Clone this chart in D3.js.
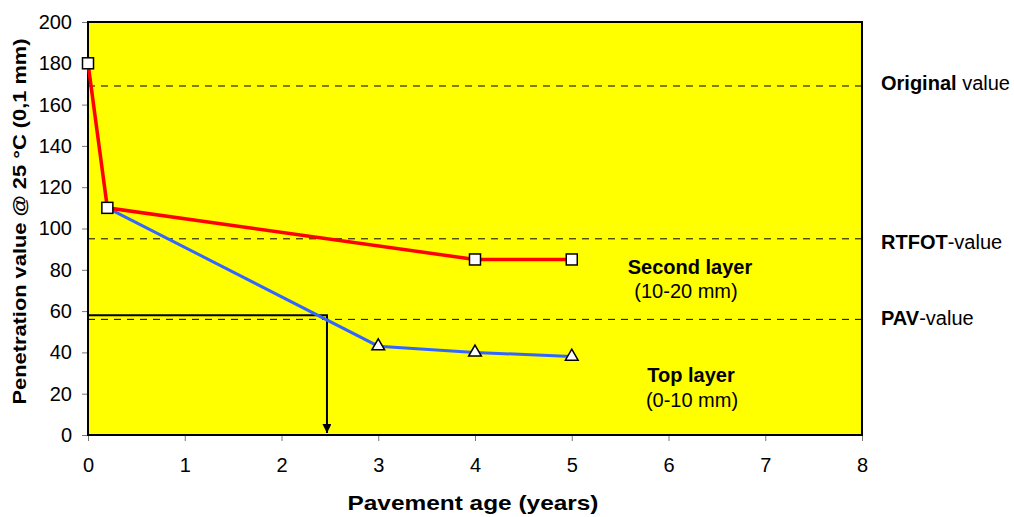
<!DOCTYPE html>
<html>
<head>
<meta charset="utf-8">
<script src="https://cdn.jsdelivr.net/npm/d3@7"></script>
<style>
  body { margin: 0; background: #fff; }
  svg { font-family: Arial, "Liberation Sans", sans-serif; }
</style>
</head>
<body>
<div id="chart"></div>
<script>
// second layer (10-20 mm)
const secondYears = [0, 0.2, 4, 5];
const secondValues = [180, 110, 85, 85];
// top layer (0-10 mm)
const topYears = [0.2, 3, 4, 5];
const topValues = [110, 43, 40, 38];
// reference levels
const refNames = ["Original", "RTFOT", "PAV"];
const refSuffix = [" value", "-value", "-value"];
const refValues = [169, 95, 56];
// reading line
const readYear = 2.47;
const readValue = 58;
const xTicks = [0, 1, 2, 3, 4, 5, 6, 7, 8];
const yTicks = [0, 20, 40, 60, 80, 100, 120, 140, 160, 180, 200];

const width = 1014;
const height = 517;
const margin = { top: 22, right: 152, bottom: 82, left: 88 };

const svg = d3.select("#chart")
    .append("svg")
    .attr("width", width)
    .attr("height", height);

const x = d3.scaleLinear().domain([0, 8]).range([margin.left, width - margin.right]);
const y = d3.scaleLinear().domain([0, 200]).range([height - margin.bottom, margin.top]);

svg.append("rect")
    .attr("x", x(0))
    .attr("y", y(200))
    .attr("width", x(8) - x(0))
    .attr("height", y(0) - y(200))
    .attr("fill", "#ffff00");

// dashed reference lines
svg.selectAll(".ref")
    .data(refValues)
    .join("line")
    .attr("x1", x(0))
    .attr("x2", x(8))
    .attr("y1", d => y(d))
    .attr("y2", d => y(d))
    .attr("stroke", "#000")
    .attr("stroke-width", 1)
    .attr("stroke-dasharray", "7,6");

const refOffset = [4, 10, 6];
const refText = svg.selectAll(".reflabel")
    .data(refNames)
    .join("text")
    .attr("x", x(8) + 19)
    .attr("y", (d, i) => y(refValues[i]) + refOffset[i])
    .attr("font-size", 20);
refText.append("tspan").attr("font-weight", "bold").text(d => d);
refText.append("tspan").text((d, i) => refSuffix[i]);

// axes
const xAxis = d3.axisBottom(x).tickValues(xTicks).tickSize(6).tickPadding(17);
const yAxis = d3.axisLeft(y).tickValues(yTicks).tickSize(6).tickPadding(10);

const gx = svg.append("g")
    .attr("transform", `translate(0, ${y(0)})`)
    .call(xAxis);
const gy = svg.append("g")
    .attr("transform", `translate(${x(0)}, 0)`)
    .call(yAxis);

[gx, gy].forEach(g => {
    g.select(".domain").remove();
    g.selectAll(".tick line").attr("stroke", "#777");
    g.selectAll(".tick text").attr("font-size", 20).attr("fill", "#000")
        .attr("font-family", "Arial, 'Liberation Sans', sans-serif");
});

// plot border
svg.append("rect")
    .attr("x", x(0))
    .attr("y", y(200))
    .attr("width", x(8) - x(0))
    .attr("height", y(0) - y(200))
    .attr("fill", "none")
    .attr("stroke", "#000")
    .attr("stroke-width", 2);

// reading line with arrow
svg.append("defs").append("marker")
    .attr("id", "arrow")
    .attr("viewBox", "0 0 10 10")
    .attr("refX", 10)
    .attr("refY", 5)
    .attr("markerUnits", "userSpaceOnUse")
    .attr("markerWidth", 12)
    .attr("markerHeight", 9)
    .attr("orient", "auto")
    .append("path")
    .attr("d", "M0,0 L10,5 L0,10 Z")
    .attr("fill", "#000");

svg.append("path")
    .attr("d", `M${x(0)},${y(readValue)} H${x(readYear)} V${y(0) - 2}`)
    .attr("fill", "none")
    .attr("stroke", "#000")
    .attr("stroke-width", 2)
    .attr("marker-end", "url(#arrow)");

const line = d3.line().x(d => x(d[0])).y(d => y(d[1]));
const secondData = secondYears.map((d, i) => [d, secondValues[i]]);
const topData = topYears.map((d, i) => [d, topValues[i]]);

svg.append("path")
    .datum(topData)
    .attr("d", line)
    .attr("fill", "none")
    .attr("stroke", "#3366ff")
    .attr("stroke-width", 3);

svg.append("path")
    .datum(secondData)
    .attr("d", line)
    .attr("fill", "none")
    .attr("stroke", "#ff0000")
    .attr("stroke-width", 3.5);

svg.selectAll(".tri")
    .data(topData.slice(1))
    .join("path")
    .attr("transform", d => `translate(${x(d[0])},${y(d[1])})`)
    .attr("d", d3.symbol().type(d3.symbolTriangle).size(70))
    .attr("fill", "#fff")
    .attr("stroke", "#000")
    .attr("stroke-width", 1.5);

svg.selectAll(".sq")
    .data(secondData)
    .join("rect")
    .attr("x", d => x(d[0]) - 5.5)
    .attr("y", d => y(d[1]) - 5.5)
    .attr("width", 11)
    .attr("height", 11)
    .attr("fill", "#fff")
    .attr("stroke", "#000")
    .attr("stroke-width", 1.5);

// layer labels
const layerLabels = [
    { t: "Second layer", b: true, xx: 690, yy: 274 },
    { t: "(10-20 mm)", b: false, xx: 686, yy: 298 },
    { t: "Top layer", b: true, xx: 691, yy: 382 },
    { t: "(0-10 mm)", b: false, xx: 692, yy: 407 }
];
svg.selectAll(".layer")
    .data(layerLabels)
    .join("text")
    .attr("x", d => d.xx)
    .attr("y", d => d.yy)
    .attr("text-anchor", "middle")
    .attr("font-size", 20)
    .attr("font-weight", d => d.b ? "bold" : "normal")
    .text(d => d.t);

// axis titles
svg.append("text")
    .attr("x", 473)
    .attr("y", 510)
    .attr("text-anchor", "middle")
    .attr("font-size", 21)
    .attr("font-weight", "bold")
    .attr("textLength", 251)
    .attr("lengthAdjust", "spacingAndGlyphs")
    .text("Pavement age (years)");

svg.append("text")
    .attr("transform", `translate(26, ${(y(0) + y(200)) / 2 - 7}) rotate(-90)`)
    .attr("text-anchor", "middle")
    .attr("font-size", 19)
    .attr("font-weight", "bold")
    .attr("textLength", 366)
    .attr("lengthAdjust", "spacingAndGlyphs")
    .text("Penetration value @ 25 °C (0,1 mm)");
</script>
</body>
</html>
